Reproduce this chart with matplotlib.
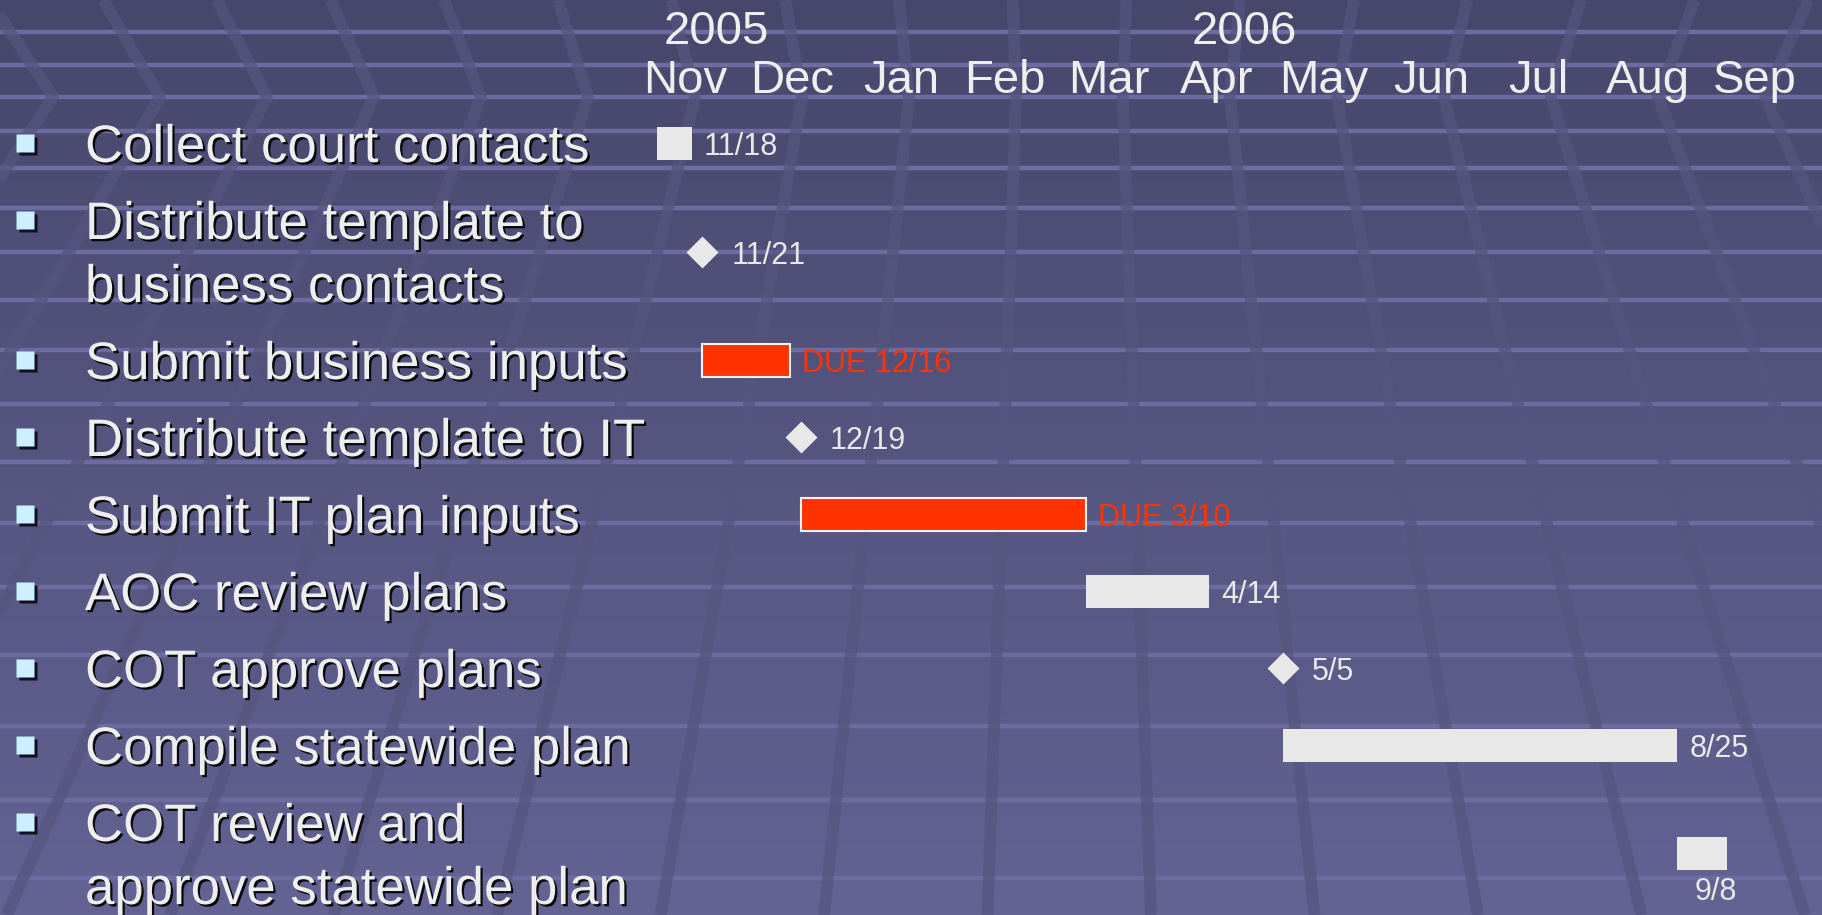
import numpy as np
import pandas as pd
import matplotlib
matplotlib.use("Agg")
import matplotlib.pyplot as plt
import matplotlib.dates as mdates
import matplotlib.patheffects as pe
from matplotlib import transforms
from matplotlib.colors import LinearSegmentedColormap

# --- data ---
tasks = [
    "Collect court contacts",
    "Distribute template to\nbusiness contacts",
    "Submit business inputs",
    "Distribute template to IT",
    "Submit IT plan inputs",
    "AOC review plans",
    "COT approve plans",
    "Compile statewide plan",
    "COT review and\napprove statewide plan",
]
starts = ["2005-11-08", "2005-11-21", "2005-11-21", "2005-12-19", "2005-12-19",
          "2006-03-10", "2006-05-05", "2006-05-05", "2006-08-25"]
ends = ["2005-11-18", "2005-11-21", "2005-12-16", "2005-12-19", "2006-03-10",
        "2006-04-14", "2006-05-05", "2006-08-25", "2006-09-08"]
end_labels = ["11/18", "11/21", "DUE 12/16", "12/19", "DUE 3/10",
              "4/14", "5/5", "8/25", "9/8"]
months = ["Nov", "Dec", "Jan", "Feb", "Mar", "Apr", "May", "Jun", "Jul", "Aug", "Sep"]
years = ["2005", "2006"]
year_dates = ["2005-11-25", "2006-04-24"]

W, H = 1822, 915
FONT = "Liberation Sans"
TXT = "#eeeeee"
BAR = "#e8e8e8"
RED = "#ff3300"

fig = plt.figure(figsize=(W / 100, H / 100), dpi=100)

# --- background: gradient + perspective grid ---
bg = fig.add_axes([0, 0, 1, 1])
grad = np.linspace(0, 1, 256)[:, None]
cmap = LinearSegmentedColormap.from_list("slide", ["#47476c", "#636394"])
bg.imshow(grad, cmap=cmap, extent=(0, W, H, 0), aspect="auto")
bg.set_xlim(0, W)
bg.set_ylim(H, 0)
bg.axis("off")

horizon = 97
k = np.arange(1, 15)
band_y = np.concatenate([[horizon], horizon + 32 * k + 1.7 * k ** 2,
                         horizon - 32.5 * np.arange(1, 3)])
bg.hlines(band_y, 0, W, color="#6c6ca0", lw=3.2)

vx, depth = 1070, 1550
for xh in 53 + 107 * np.arange(-6, 26):
    s = (xh - vx) / depth
    bg.plot([xh + s * horizon, xh, xh + s * (H - horizon)], [0, horizon, H],
            color="#55557f", lw=8.5, alpha=0.7, solid_capstyle="butt")

# --- gantt axes: x in dates, y in pixels from the top ---
ax = fig.add_axes([0, 0, 1, 1])
ax.patch.set_alpha(0)
ax.axis("off")
nov1 = mdates.date2num(pd.Timestamp("2005-11-01"))
px_day, nov1_px = 3.52, 632
ax.set_xlim(nov1 - nov1_px / px_day, nov1 + (W - nov1_px) / px_day)
ax.set_ylim(H, 0)

shadow = [pe.withSimplePatchShadow(offset=(1.6, -1.6), shadow_rgbFace="black", alpha=0.9)]
left = transforms.blended_transform_factory(ax.transAxes, ax.transData)

# row layout like a bullet list
line_pitch, item_gap, first = 63, 77, 143
centers, y = [], first
for t in tasks:
    lines = t.split("\n")
    ys = [y + i * line_pitch for i in range(len(lines))]
    for ln, ly in zip(lines, ys):
        ax.text(85 / W, ly + 19, ln, transform=left, fontsize=38, family=FONT,
                color=TXT, va="baseline", ha="left", path_effects=shadow)
    sh = transforms.offset_copy(left, fig=fig, x=3, y=-3, units="dots")
    ax.plot([25 / W], [ys[0]], marker="s", ms=13, color="#101020", mec="none", transform=sh)
    ax.plot([25 / W], [ys[0]], marker="s", ms=13, color="#ccf0ff", mec="none", transform=left)
    centers.append(np.mean(ys))
    y = ys[-1] + item_gap

# header: years and months
mstarts = pd.date_range("2005-11-01", periods=len(months) + 1, freq="MS")
mcenters = mstarts[:-1] + (mstarts[1:] - mstarts[:-1]) / 2
for m, d in zip(months, mcenters):
    ax.text(mdates.date2num(d), 93, m, fontsize=34, family=FONT, color=TXT,
            ha="center", va="baseline")
for yr, d in zip(years, year_dates):
    ax.text(mdates.date2num(pd.Timestamp(d)), 44, yr, fontsize=34, family=FONT,
            color=TXT, ha="center", va="baseline")

# bars, milestones and end labels
for i, (s, e, lab) in enumerate(zip(starts, ends, end_labels)):
    s = mdates.date2num(pd.Timestamp(s))
    e = mdates.date2num(pd.Timestamp(e))
    yc = centers[i]
    due = lab.startswith("DUE")
    if s == e:
        ax.plot([e], [yc], marker="D", ms=16.8, color=BAR, mec="none")
        off = (29, -4)
    else:
        ax.barh(yc, e - s, left=s, height=33, color=RED if due else BAR,
                edgecolor="#f2f2f2" if due else BAR, lw=1.5 if due else 0)
        off = (12, -4)
    if i == len(tasks) - 1:
        ax.annotate(lab, (e, yc), xytext=(10, -38), textcoords="offset pixels",
                    fontsize=22, family=FONT, color=BAR, ha="right", va="center")
    else:
        ax.annotate(lab, (e, yc), xytext=off, textcoords="offset pixels",
                    fontsize=22, family=FONT, color=RED if due else BAR,
                    ha="left", va="center")

fig.savefig("out.png", dpi=100)
